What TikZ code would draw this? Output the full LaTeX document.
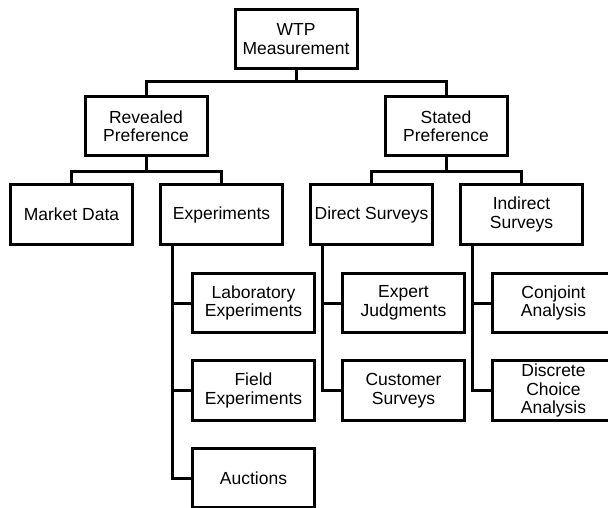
\documentclass[tikz,border=0pt]{standalone}
\usepackage{fontspec}
\setmainfont{Liberation Sans}
\begin{document}
\begin{tikzpicture}[x=1pt,y=1pt,
  box/.style={draw=black, fill=white, line width=3pt, minimum width=122pt,
    minimum height=59.5pt, inner sep=0pt, outer sep=0pt, align=center,
    font=\fontsize{17.5}{18.5}\selectfont},
  link/.style={draw=black, line width=3pt}]
\clip (0,0) rectangle (608,-508);
\fill[white] (0,0) rectangle (608,-508);
% nodes
\node[box] (wtp) at (296,-39) {WTP\\Measurement};
\node[box] (rev) at (146,-126) {Revealed\\Preference};
\node[box] (sta) at (446,-126) {Stated\\Preference};
\node[box] (mkt) at (71.5,-214.5) {Market Data};
\node[box] (exp) at (221.5,-214.5) {Experiments};
\node[box] (dir) at (371.5,-214.5) {Direct Surveys};
\node[box] (ind) at (521.5,-214.5) {Indirect\\Surveys};
\node[box] (lab) at (253.5,-303) {Laboratory\\Experiments};
\node[box] (fld) at (253.5,-390.5) {Field\\Experiments};
\node[box] (auc) at (253.5,-478) {Auctions};
\node[box] (exj) at (403.5,-303) {Expert\\Judgments};
\node[box] (cus) at (403.5,-390.5) {Customer\\Surveys};
\node[box] (con) at (553.5,-303) {Conjoint\\Analysis};
\node[box] (dis) at (553.5,-390.5) {Discrete\\Choice\\Analysis};
% top level connectors
\draw[link] (wtp.south) -- ++(0,-13.25) -| (rev.north);
\draw[link] (wtp.south) -- ++(0,-13.25) -| (sta.north);
\draw[link] (rev.south) -- ++(0,-16.25) -| (mkt.north);
\draw[link] (rev.south) -- ++(0,-16.25) -| (exp.north);
\draw[link] (sta.south) -- ++(0,-16.25) -| (dir.north);
\draw[link] (sta.south) -- ++(0,-16.25) -| (ind.north);
% spines
\coordinate (se) at ([xshift=12pt]exp.south west);
\coordinate (sd) at ([xshift=12pt]dir.south west);
\coordinate (si) at ([xshift=12pt]ind.south west);
\draw[link] (se) |- (auc.west);
\draw[link] (se |- lab.west) -- (lab.west);
\draw[link] (se |- fld.west) -- (fld.west);
\draw[link] (sd) |- (cus.west);
\draw[link] (sd |- exj.west) -- (exj.west);
\draw[link] (si) |- (dis.west);
\draw[link] (si |- con.west) -- (con.west);
\end{tikzpicture}
\end{document}
